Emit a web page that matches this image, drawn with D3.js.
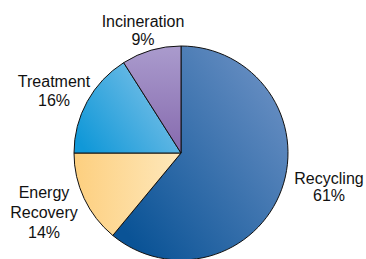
<!DOCTYPE html>
<html><head><meta charset="utf-8">
<script src="https://cdn.jsdelivr.net/npm/d3@7"></script>
<style>html,body{margin:0;padding:0;background:#fff;}svg{display:block;}</style>
</head><body>
<script>
const categories = ["Recycling", "Energy Recovery", "Treatment", "Incineration"];
const values = [61, 14, 16, 9];
const labelLines = [["Recycling", "61%"], ["Energy", "Recovery", "14%"], ["Treatment", "16%"], ["Incineration", "9%"]];
const colorsDark = ["#0a5396", "#fdcf7f", "#1098d8", "#866aae"];
const colorsLight = ["#6f93c6", "#fee8bb", "#84c4e9", "#aa9bcd"];
// gradient vectors (objectBoundingBox) per slice
const gradDirs = [[0.1,0.9,1,0.1],[0,0.5,1,0.5],[0,0.8,1,0.2],[0.5,1,0.5,0]];
const labelPos = [[329,184],[44,198],[54,87],[143,27]];
const lineGap = [17, 20, 19, 18];

const W = 366, H = 259, cx = 181, cy = 153, r = 107;
const svg = d3.select("body").append("svg").attr("width", W).attr("height", H);
const defs = svg.append("defs");
categories.forEach((c, i) => {
  const g = defs.append("linearGradient").attr("id", "g" + i)
    .attr("x1", gradDirs[i][0]).attr("y1", gradDirs[i][1])
    .attr("x2", gradDirs[i][2]).attr("y2", gradDirs[i][3]);
  g.append("stop").attr("offset", "0%").attr("stop-color", colorsDark[i]);
  g.append("stop").attr("offset", "100%").attr("stop-color", colorsLight[i]);
});
const pie = d3.pie().sort(null).value(d => d)(values);
const arc = d3.arc().innerRadius(0).outerRadius(r);
const gp = svg.append("g").attr("transform", `translate(${cx},${cy})`);
gp.selectAll("path").data(pie).enter().append("path")
  .attr("d", arc)
  .attr("fill", (d, i) => `url(#g${i})`)
  .attr("stroke", "#111").attr("stroke-width", 1).attr("stroke-linejoin", "round");

labelLines.forEach((lines, i) => {
  const t = svg.append("text").attr("text-anchor", "middle")
    .attr("font-family", "Liberation Sans, Arial, Helvetica, sans-serif")
    .attr("font-size", 16).attr("fill", "#111");
  lines.forEach((l, j) => {
    t.append("tspan").attr("x", labelPos[i][0]).attr("y", labelPos[i][1] + j * lineGap[i]).text(l);
  });
});
</script>
</body></html>
